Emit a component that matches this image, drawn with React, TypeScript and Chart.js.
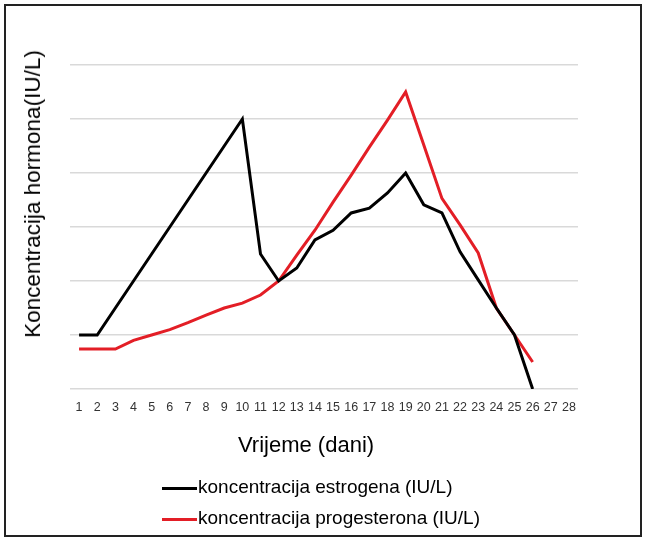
import React, { useEffect, useRef } from "react";
import { Chart, registerables, ChartConfiguration } from "chart.js";

Chart.register(...registerables);

const days = Array.from({ length: 28 }, (_, i) => String(i + 1));

const estrogen = [1, 1, 1.5, 2, 2.5, 3, 3.5, 4, 4.5, 5, 2.5, 2, 2.24, 2.76, 2.94, 3.26, 3.35, 3.63, 4, 3.41, 3.26, 2.54, 2.02, 1.5, 1, 0];
const progesterone = [0.74, 0.74, 0.74, 0.9, 1.0, 1.1, 1.23, 1.37, 1.5, 1.59, 1.74, 2, 2.48, 2.94, 3.46, 3.96, 4.48, 4.98, 5.5, 4.52, 3.53, 3.04, 2.52, 1.5, 1, 0.5];

const seriesNames = ["koncentracija estrogena (IU/L)", "koncentracija progesterona (IU/L)"];
const seriesColors = ["#000000", "#e31e26"];

const FONT = "'Liberation Sans', Arial, sans-serif";

export default function App() {
  const ref = useRef<HTMLCanvasElement | null>(null);
  const chartRef = useRef<Chart | null>(null);

  useEffect(() => {
    const ctx = ref.current?.getContext("2d");
    if (!ctx) return;
    const config: ChartConfiguration = {
      type: "line",
      data: {
        labels: days,
        datasets: [
          { label: seriesNames[0], data: estrogen, borderColor: seriesColors[0], borderWidth: 3, pointRadius: 0, tension: 0 },
          { label: seriesNames[1], data: progesterone, borderColor: seriesColors[1], borderWidth: 3, pointRadius: 0, tension: 0 },
        ],
      },
      options: {
        animation: false,
        responsive: true,
        maintainAspectRatio: false,
        layout: { padding: { left: 70, right: 68, top: 65, bottom: 100 } },
        plugins: { legend: { display: false }, tooltip: { enabled: false } },
        scales: {
          x: {
            offset: true,
            grid: { display: false, drawTicks: false },
            border: { display: false },
            ticks: { autoSkip: false, maxRotation: 0, padding: 11, color: "#333333", font: { family: FONT, size: 12.5 } },
            afterFit: (s: any) => { s.height = 51; },
          },
          y: {
            min: 0,
            max: 6,
            grid: { color: "#d9d9d9", lineWidth: 1.5, drawTicks: false },
            border: { display: false },
            ticks: { display: false, stepSize: 1 },
            afterFit: (s: any) => { s.width = 0; },
          },
        },
      },
    };
    chartRef.current?.destroy();
    chartRef.current = new Chart(ctx, config);
    return () => chartRef.current?.destroy();
  }, []);

  return (
    <div style={{ position: "absolute", left: 0, top: 0, width: 646, height: 540, background: "#fff", fontFamily: FONT, color: "#000" }}>
      <div style={{ position: "absolute", left: 4, top: 4, width: 638, height: 533, boxSizing: "border-box", border: "2px solid #222" }} />
      <div style={{ position: "absolute", left: 0, top: 0, width: 646, height: 540 }}>
        <canvas ref={ref} aria-label="Line chart" role="img" />
      </div>
      <div style={{ position: "absolute", left: 33, top: 194, transform: "translate(-50%, -50%) rotate(-90deg)", whiteSpace: "nowrap", fontSize: 22.5, lineHeight: "22px" }}>
        Koncentracija hormona(IU/L)
      </div>
      <div style={{ position: "absolute", left: 238, top: 434, whiteSpace: "nowrap", fontSize: 22, lineHeight: "22px" }}>
        Vrijeme (dani)
      </div>
      {seriesNames.map((name, i) => (
        <div key={name} style={{ position: "absolute", left: 162, top: 477 + i * 31, display: "flex", alignItems: "center", whiteSpace: "nowrap", fontSize: 19, lineHeight: "19px" }}>
          <span style={{ display: "inline-block", width: 35, height: 3, background: seriesColors[i], marginTop: 3 }} />
          <span style={{ marginLeft: 1 }}>{name}</span>
        </div>
      ))}
    </div>
  );
}
